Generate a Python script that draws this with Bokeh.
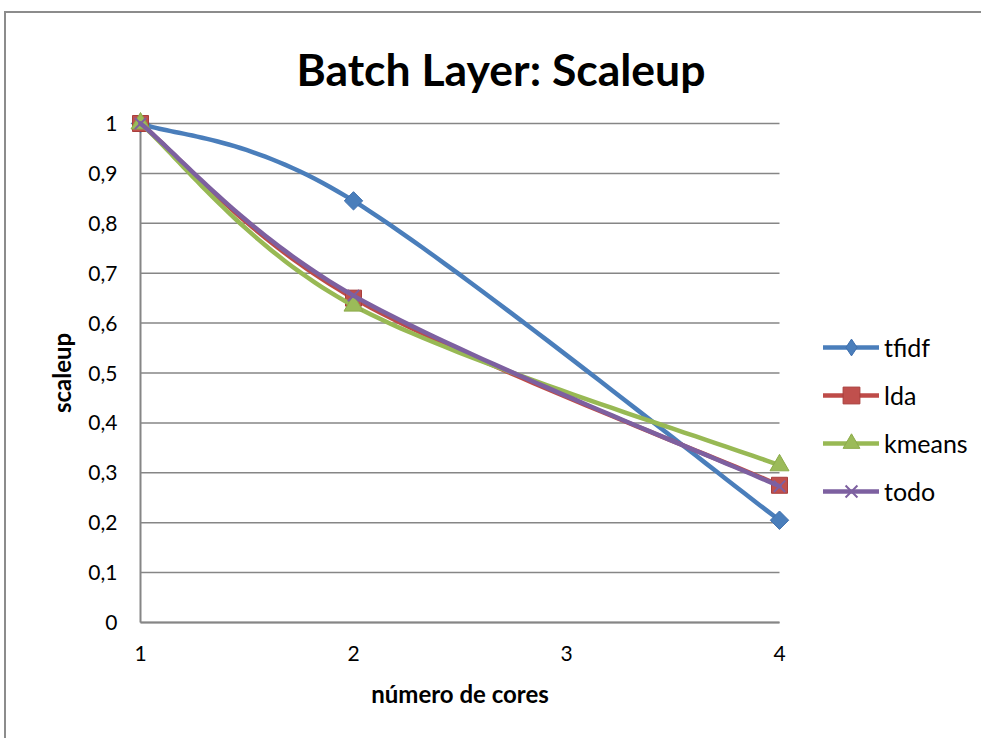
import numpy as np
from bokeh.plotting import figure
from bokeh.models import Range1d, FixedTicker, Legend, LegendItem
from bokeh.embed import file_html
from bokeh.resources import INLINE

# number of cores and measured scaleup for each workload
cores = [1, 2, 4]
tfidf = [1.0, 0.845, 0.205]
lda = [1.0, 0.65, 0.275]
kmeans = [1.0, 0.635, 0.315]
todo = [1.0, 0.655, 0.273]

series_names = ["tfidf", "lda", "kmeans", "todo"]
x_ticks = [1, 2, 3, 4]
x_tick_labels = ["1", "2", "3", "4"]
y_ticks = [0, 0.1, 0.2, 0.3, 0.4, 0.5, 0.6, 0.7, 0.8, 0.9, 1.0]
y_tick_labels = ["0", "0,1", "0,2", "0,3", "0,4", "0,5", "0,6", "0,7", "0,8", "0,9", "1"]

FONT = "Lato"
GRID = "#868686"

# plot-area geometry (pixels per data unit) and the space around it;
# the frame is a little larger than the gridded area so markers are not cut
PX_X = 213.0
PX_Y = 499.0
PAD_LEFT, PAD_BOTTOM = 16, 12
BORDER_L, BORDER_R, BORDER_T, BORDER_B = 118, 186, 98, 104
FRAME_W, FRAME_H = 671, 523


def smooth(xs, ys, n=40):
    """Piecewise cubic Bezier through the points (office-style smoothed line)."""
    pts = np.column_stack([xs, ys]).astype(float)
    out = []
    for i in range(len(pts) - 1):
        p0 = pts[i - 1] if i > 0 else pts[i]
        p1 = pts[i]
        p2 = pts[i + 1]
        p3 = pts[i + 2] if i + 2 < len(pts) else pts[i + 1]
        c1 = p1 + (p2 - p0) / 6.0
        c2 = p2 - (p3 - p1) / 6.0
        t = np.linspace(0, 1, n)[:, None]
        seg = ((1 - t) ** 3) * p1 + 3 * ((1 - t) ** 2) * t * c1 + 3 * (1 - t) * t ** 2 * c2 + t ** 3 * p2
        out.append(seg if i == 0 else seg[1:])
    seg = np.vstack(out)
    return seg[:, 0], seg[:, 1]


x0 = x_ticks[0] - PAD_LEFT / PX_X
y0 = y_ticks[0] - PAD_BOTTOM / PX_Y
p = figure(
    title="Batch Layer: Scaleup",
    frame_width=FRAME_W, frame_height=FRAME_H,
    min_border_left=BORDER_L, min_border_right=BORDER_R,
    min_border_top=BORDER_T, min_border_bottom=BORDER_B,
    x_range=Range1d(x0, x0 + FRAME_W / PX_X),
    y_range=Range1d(y0, y0 + FRAME_H / PX_Y),
    output_backend="svg", toolbar_location=None,
    background_fill_color="white", border_fill_color="white",
)
p.margin = (11, 0, 0, 4)
p.styles = {"border-left": "2px solid #8c8c8c", "border-top": "2px solid #8c8c8c"}
p.outline_line_color = None
p.xgrid.grid_line_color = None
p.ygrid.grid_line_color = None

p.title.align = "left"
p.title.offset = 172
p.title.vertical_align = "top"
p.title.text_font = FONT
p.title.text_font_style = "bold"
p.title.text_font_size = "44.5px"
p.title.text_color = "black"
p.title.standoff = 30

# horizontal gridlines and both axis lines, spanning the gridded area only
p.segment(x0=[x_ticks[0]] * len(y_ticks), x1=[x_ticks[-1]] * len(y_ticks),
          y0=y_ticks, y1=y_ticks, line_color=GRID, line_width=1.5)
p.segment(x0=[x_ticks[0], x_ticks[0]], x1=[x_ticks[0], x_ticks[-1]],
          y0=[y_ticks[0], y_ticks[0]], y1=[y_ticks[-1], y_ticks[0]],
          line_color=GRID, line_width=2)

# axes (lines drawn above; these carry the tick labels and titles)
p.xaxis.ticker = FixedTicker(ticks=x_ticks)
p.xaxis.major_label_overrides = {t: l for t, l in zip(x_ticks, x_tick_labels)}
p.yaxis.ticker = FixedTicker(ticks=y_ticks)
p.yaxis.major_label_overrides = {t: l for t, l in zip(y_ticks, y_tick_labels)}
for ax in (p.xaxis, p.yaxis):
    ax.axis_line_color = None
    ax.major_tick_line_color = None
    ax.minor_tick_line_color = None
    ax.major_label_text_font = FONT
    ax.major_label_text_font_size = "21px"
    ax.major_label_text_color = "black"
    ax.axis_label_text_font = FONT
    ax.axis_label_text_font_size = "24px"
    ax.axis_label_text_font_style = "bold"
    ax.axis_label_text_color = "black"
p.xaxis.axis_label = "número de cores"
p.yaxis.axis_label = "scaleup"
p.xaxis.major_label_standoff = 5
p.xaxis.axis_label_standoff = 15
p.yaxis.major_label_standoff = 1
p.yaxis.axis_label_standoff = 9

styles = [
    # name, values, line colour, marker, legend marker, fill, marker line, size, angle
    ("tfidf", tfidf, "#4A7EBB", "square", "diamond", "#4A7EBB", "#3E6FAE", 13, np.pi / 4),
    ("lda", lda, "#BE4B48", "square", "square", "#C0504D", "#A83F3C", 16, 0),
    ("kmeans", kmeans, "#98B954", "triangle", "triangle", "#9BBB59", "#8CAB4A", 19, 0),
    ("todo", todo, "#7D60A0", "x", "x", "#7D60A0", "#7D60A0", 16, 0),
]

items = []
for name, vals, lc, mk, lmk, fc, mlc, size, ang in styles:
    sx, sy = smooth(cores, vals)
    lw = 2 if mk == "x" else 1
    r_line = p.line(sx, sy, line_color=lc, line_width=4.5, line_cap="round", line_join="round")
    r_pts = p.scatter(cores, vals, marker=mk, size=size, angle=ang,
                      fill_color=fc, line_color=mlc, line_width=lw)
    keys = [r_line, r_pts]
    if lmk != mk:
        # legend swatches are drawn unrotated, so give the legend its own
        # (hidden) diamond renderer for this series
        r_key = p.scatter(cores, vals, marker=lmk, size=size,
                          fill_color=fc, line_color=mlc, line_width=lw, visible=False)
        keys = [r_line, r_key]
    items.append(LegendItem(label=name, renderers=keys))

legend = Legend(
    items=items, location=(28, 122),
    glyph_width=56, glyph_height=42, label_height=42, spacing=6,
    label_standoff=5, padding=0, margin=0,
    label_text_font=FONT, label_text_font_size="25px", label_text_color="black",
    border_line_color=None, background_fill_alpha=0,
    inactive_fill_alpha=0,
)
p.add_layout(legend, "right")

open("out.html", "w").write(file_html(p, INLINE))
